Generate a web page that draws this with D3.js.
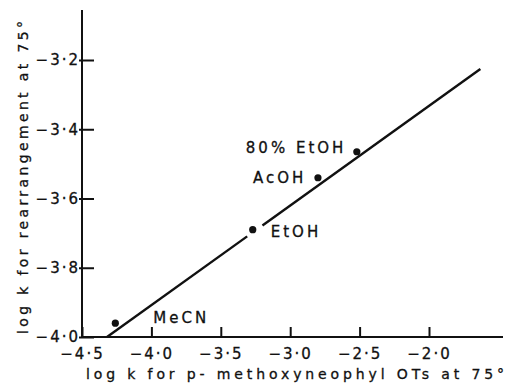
<!DOCTYPE html>
<html lang="en">
<head>
  <meta charset="UTF-8">
  <title>Rearrangement vs neophyl OTs</title>
  <style>
    body { margin: 0; background: #fff; }
    text { font-family: 'DejaVu Sans', sans-serif; fill: #111; stroke: #111; stroke-width: 0.3; }
    .tick text { font-size: 15px; letter-spacing: 2px; }
    .tick line, .domain { stroke: #111; stroke-width: 2; }
  </style>
</head>
<body>
  <svg width="505" height="384"></svg>
  <script src="https://cdn.jsdelivr.net/npm/d3@7"></script>
  <script>
    // data
    var solvents = ['MeCN', 'EtOH', 'AcOH', '80% EtOH']
    var logKNeophyl = [-4.26, -3.27, -2.80, -2.52]
    var logKRearr = [-3.96, -3.69, -3.54, -3.465]
    var fitX = [-4.32, -1.63]
    var fitY = [-4.0, -3.226]
    var fitGapX = [-3.31, -3.20]
    var xTicks = [-4.5, -4.0, -3.5, -3.0, -2.5, -2.0]
    var yTicks = [-4.0, -3.8, -3.6, -3.4, -3.2]

    var svg = d3.select('svg')
    var x = d3.scaleLinear().domain([-4.5, -2.0]).range([82, 429])
    var y = d3.scaleLinear().domain([-4.0, -3.2]).range([337, 60])

    var fmt = function(d) {
      return '\u2212' + Math.abs(d).toFixed(1).replace('.', '\u00b7')
    }

    // x axis, ticks pointing up into the plot
    var gx = svg.append('g')
      .attr('transform', 'translate(0,' + y(-4.0) + ')')
      .call(d3.axisBottom(x).tickValues(xTicks).tickSizeInner(-10).tickSizeOuter(0).tickPadding(8).tickFormat(fmt))
    gx.select('.domain').attr('d', 'M' + x(-4.5) + ',0H503')
    gx.selectAll('.tick text').attr('dy', '0.9em')

    // y axis, ticks pointing right
    var gy = svg.append('g')
      .attr('transform', 'translate(' + x(-4.5) + ',0)')
      .call(d3.axisLeft(y).tickValues(yTicks).tickSizeInner(-12).tickSizeOuter(0).tickPadding(2).tickFormat(fmt))
    gy.select('.domain').attr('d', 'M0,10V' + y(-4.0))
    gy.selectAll('.tick line').attr('x1', -3)

    // fitted line, broken round the EtOH point
    var fit = d3.scaleLinear().domain(fitX).range(fitY)
    var segs = [[fitX[0], fitGapX[0]], [fitGapX[1], fitX[1]]]
    svg.selectAll('.fit')
      .data(segs)
      .enter()
      .append('line')
      .attr('class', 'fit')
      .attr('x1', function(d) { return x(d[0]) })
      .attr('y1', function(d) { return y(fit(d[0])) })
      .attr('x2', function(d) { return x(d[1]) })
      .attr('y2', function(d) { return y(fit(d[1])) })
      .attr('stroke', '#111').attr('stroke-width', 2.4)

    // points
    svg.selectAll('.pt')
      .data(solvents)
      .enter()
      .append('circle')
      .attr('class', 'pt')
      .attr('cx', function(d, i) { return x(logKNeophyl[i]) })
      .attr('cy', function(d, i) { return y(logKRearr[i]) })
      .attr('r', 3.6)
      .attr('fill', '#111')

    // point labels (offset from their point, in px)
    var labelOffsets = [[38, -5], [18, 2], [-65, 0], [-111, -4]]
    svg.selectAll('.lbl')
      .data(solvents)
      .enter()
      .append('text')
      .attr('class', 'lbl')
      .attr('x', function(d, i) { return x(logKNeophyl[i]) + labelOffsets[i][0] })
      .attr('y', function(d, i) { return y(logKRearr[i]) + labelOffsets[i][1] })
      .attr('dy', '0.35em')
      .attr('font-size', '15px')
      .attr('letter-spacing', '3px')
      .text(function(d) { return d })

    // axis titles
    svg.append('text')
      .attr('x', 86)
      .attr('y', 379)
      .attr('font-size', '14px')
      .attr('textLength', 418)
      .text('log k for p- methoxyneophyl OTs at 75\u00b0')

    svg.append('text')
      .attr('transform', 'translate(28,334) rotate(-90)')
      .attr('font-size', '14px')
      .attr('textLength', 313)
      .text('log k for rearrangement at 75\u00b0')
  </script>
</body>
</html>
